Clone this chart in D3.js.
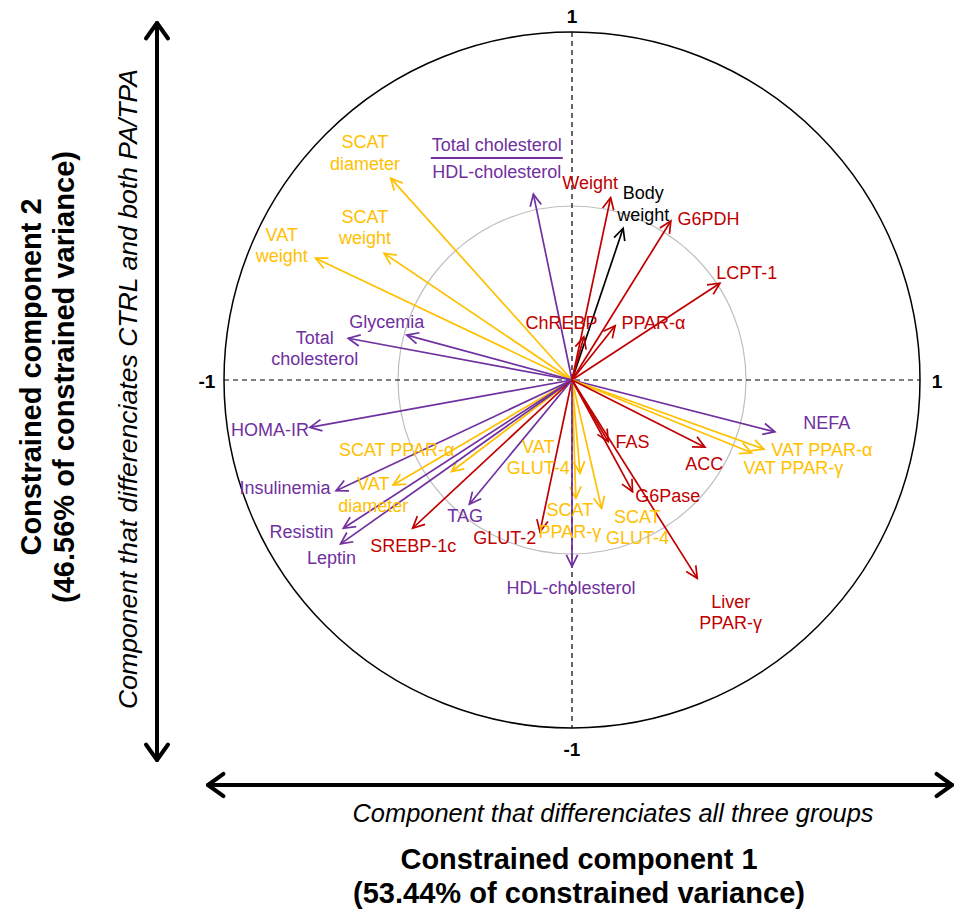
<!DOCTYPE html>
<html>
<head>
<meta charset="utf-8">
<script src="https://cdn.jsdelivr.net/npm/d3@7"></script>
<style>
  html, body { margin: 0; padding: 0; background: #fff; }
  svg { display: block; font-family: "Liberation Sans", Arial, sans-serif; }
</style>
</head>
<body>
<svg id="chart" width="954" height="914"></svg>
<script>
// ---------------- DATA ----------------
const variables = [
  "SCAT diameter", "SCAT weight", "VAT weight", "Total cholesterol / HDL-cholesterol",
  "Glycemia", "Total cholesterol", "Weight", "Body weight", "G6PDH", "LCPT-1",
  "PPAR-α", "ChREBP", "HOMA-IR", "SCAT PPAR-α", "VAT diameter", "Insulinemia",
  "Resistin", "Leptin", "SREBP-1c", "TAG", "GLUT-2", "VAT GLUT-4", "SCAT PPAR-γ",
  "SCAT GLUT-4", "HDL-cholesterol", "NEFA", "VAT PPAR-α", "VAT PPAR-γ", "ACC",
  "FAS", "G6Pase", "Liver PPAR-γ"
];
const component1 = [
  -0.521, -0.540, -0.737, -0.111,
  -0.475, -0.643, 0.111, 0.147, 0.284, 0.425,
  0.124, 0.034, -0.753, -0.346, -0.514, -0.678,
  -0.657, -0.665, -0.458, -0.295, -0.092, 0.023, 0.011,
  0.085, 0.000, 0.583, 0.552, 0.516, 0.382,
  0.104, 0.174, 0.360
];
const component2 = [
  0.580, 0.364, 0.350, 0.534,
  0.129, 0.120, 0.524, 0.436, 0.457, 0.278,
  0.156, 0.124, -0.136, -0.263, -0.302, -0.318,
  -0.426, -0.471, -0.426, -0.357, -0.436, -0.268, -0.340,
  -0.369, -0.536, -0.149, -0.199, -0.209, -0.193,
  -0.177, -0.321, -0.570
];
const groups = [
  "adipose", "adipose", "adipose", "serum",
  "serum", "serum", "liver", "body", "liver", "liver",
  "liver", "liver", "serum", "adipose", "adipose", "serum",
  "serum", "serum", "liver", "serum", "liver", "adipose", "adipose",
  "adipose", "serum", "serum", "adipose", "adipose", "liver",
  "liver", "liver", "liver"
];
const labelLines = [
  ["SCAT", "diameter"], ["SCAT", "weight"], ["VAT", "weight"], ["Total cholesterol", "HDL-cholesterol"],
  ["Glycemia"], ["Total", "cholesterol"], ["Weight"], ["Body", "weight"], ["G6PDH"], ["LCPT-1"],
  ["PPAR-α"], ["ChREBP"], ["HOMA-IR"], ["SCAT PPAR-α"], ["VAT", "diameter"], ["Insulinemia"],
  ["Resistin"], ["Leptin"], ["SREBP-1c"], ["TAG"], ["GLUT-2"], ["VAT", "GLUT-4"], ["SCAT", "PPAR-γ"],
  ["SCAT", "GLUT-4"], ["HDL-cholesterol"], ["NEFA"], ["VAT PPAR-α"], ["VAT PPAR-γ"], ["ACC"],
  ["FAS"], ["G6Pase"], ["Liver", "PPAR-γ"]
];
// label anchor (centre of the label block), in component units
const labelX = [
  -0.595, -0.595, -0.834, -0.216,
  -0.532, -0.739, 0.052, 0.205, 0.392, 0.502,
  0.234, -0.030, -0.868, -0.504, -0.571, -0.825,
  -0.777, -0.691, -0.456, -0.307, -0.193, -0.097, -0.006,
  0.188, -0.003, 0.732, 0.718, 0.636, 0.380,
  0.174, 0.275, 0.456
];
const labelY = [
  0.653, 0.438, 0.386, 0.638,
  0.168, 0.090, 0.565, 0.505, 0.462, 0.307,
  0.163, 0.165, -0.144, -0.201, -0.330, -0.311,
  -0.436, -0.512, -0.477, -0.391, -0.455, -0.223, -0.405,
  -0.424, -0.598, -0.124, -0.201, -0.254, -0.241,
  -0.177, -0.333, -0.668
];
const axisTicks = [-1, 1];
const xTitle = ["Constrained component 1", "(53.44% of constrained variance)"];
const yTitle = ["Constrained component 2", "(46.56% of constrained variance)"];
const xSubtitle = "Component that differenciates all three groups";
const ySubtitle = "Component that differenciates CTRL and both PA/TPA";

// ---------------- STYLE ----------------
const colors = { serum: "#7030A0", adipose: "#FFC000", liver: "#C00000", body: "#000000" };
const cx = 572, cy = 380, R = 348;

const svg = d3.select("#chart");
const x = d3.scaleLinear().domain([-1, 1]).range([cx - R, cx + R]);
const y = d3.scaleLinear().domain([-1, 1]).range([cy + R, cy - R]);

// circles
svg.append("circle").attr("cx", x(0)).attr("cy", y(0)).attr("r", x(1) - x(0))
  .attr("fill", "none").attr("stroke", "#000").attr("stroke-width", 1.5);
svg.append("circle").attr("cx", x(0)).attr("cy", y(0)).attr("r", x(0.5) - x(0))
  .attr("fill", "none").attr("stroke", "#BFBFBF").attr("stroke-width", 1.2);

// dashed axes
svg.append("line").attr("x1", x(-1)).attr("x2", x(1)).attr("y1", y(0)).attr("y2", y(0))
  .attr("stroke", "#000").attr("stroke-width", 1.2).attr("stroke-dasharray", "5,4");
svg.append("line").attr("x1", x(0)).attr("x2", x(0)).attr("y1", y(1)).attr("y2", y(-1))
  .attr("stroke", "#000").attr("stroke-width", 1.2).attr("stroke-dasharray", "5,4");

// tick labels
const tickG = svg.append("g").attr("font-weight", "bold").attr("font-size", 19)
  .attr("text-anchor", "middle").attr("dominant-baseline", "central");
axisTicks.forEach(t => {
  tickG.append("text").attr("x", x(t) + (t < 0 ? -17 : 17)).attr("y", y(0) + 1).text(t);
  tickG.append("text").attr("x", x(0)).attr("y", y(t) + (t < 0 ? 21 : -16)).text(t);
});

// arrows
const data = variables.map((v, i) => ({
  name: v, px: component1[i], py: component2[i], g: groups[i],
  lines: labelLines[i], lx: labelX[i], ly: labelY[i]
}));

function headPath(x0, y0, x1, y1, len, ang) {
  const a = Math.atan2(y1 - y0, x1 - x0);
  const p1 = [x1 - len * Math.cos(a - ang), y1 - len * Math.sin(a - ang)];
  const p2 = [x1 - len * Math.cos(a + ang), y1 - len * Math.sin(a + ang)];
  return `M${p1[0]},${p1[1]}L${x1},${y1}L${p2[0]},${p2[1]}`;
}

const arrows = svg.append("g");
data.forEach(d => {
  const col = colors[d.g];
  arrows.append("line").attr("x1", x(0)).attr("y1", y(0)).attr("x2", x(d.px)).attr("y2", y(d.py))
    .attr("stroke", col).attr("stroke-width", 1.7);
  arrows.append("path").attr("d", headPath(x(0), y(0), x(d.px), y(d.py), 13, 0.45))
    .attr("fill", "none").attr("stroke", col).attr("stroke-width", 1.7);
});

// labels
const labels = svg.append("g").attr("font-size", 18).attr("text-anchor", "middle");
const lh = 21.6;
data.forEach(d => {
  const col = colors[d.g];
  const n = d.lines.length;
  if (d.name === "Total cholesterol / HDL-cholesterol") {
    const t = labels.append("text").attr("fill", col).attr("dominant-baseline", "central");
    t.append("tspan").attr("x", x(d.lx)).attr("y", y(d.ly) - 13).text(d.lines[0]);
    t.append("tspan").attr("x", x(d.lx)).attr("y", y(d.ly) + 14).text(d.lines[1]);
    svg.append("line").attr("x1", x(d.lx) - 66).attr("x2", x(d.lx) + 66)
      .attr("y1", y(d.ly)).attr("y2", y(d.ly)).attr("stroke", col).attr("stroke-width", 2);
    return;
  }
  const t = labels.append("text").attr("fill", col).attr("dominant-baseline", "central");
  d.lines.forEach((ln, k) => {
    t.append("tspan").attr("x", x(d.lx)).attr("y", y(d.ly) + (k - (n - 1) / 2) * lh).text(ln);
  });
});

// big double arrows
function bigArrow(x1, y1, x2, y2) {
  const g = svg.append("g").attr("stroke", "#000").attr("stroke-width", 4).attr("fill", "none")
    .attr("stroke-linecap", "round").attr("stroke-linejoin", "round");
  g.append("line").attr("x1", x1).attr("y1", y1).attr("x2", x2).attr("y2", y2);
  g.append("path").attr("d", headPath(x1, y1, x2, y2, 19, 0.62));
  g.append("path").attr("d", headPath(x2, y2, x1, y1, 19, 0.62));
}
bigArrow(157, 760, 157, 23);
bigArrow(208, 785, 952, 785);

// titles
svg.append("text").attr("x", 613).attr("y", 813).attr("text-anchor", "middle")
  .attr("dominant-baseline", "central").attr("font-style", "italic").attr("font-size", 26)
  .attr("textLength", 521).attr("lengthAdjust", "spacingAndGlyphs").text(xSubtitle);
xTitle.forEach((s, i) => {
  svg.append("text").attr("x", 579).attr("y", 858 + i * 34).attr("text-anchor", "middle")
    .attr("dominant-baseline", "central").attr("font-weight", "bold").attr("font-size", 30)
    .attr("textLength", i === 0 ? 357 : 452).attr("lengthAdjust", "spacingAndGlyphs").text(s);
});
yTitle.forEach((s, i) => {
  svg.append("text").attr("transform", `translate(${30 + i * 33},377) rotate(-90)`)
    .attr("text-anchor", "middle").attr("dominant-baseline", "central")
    .attr("font-weight", "bold").attr("font-size", 30)
    .attr("textLength", i === 0 ? 357 : 452).attr("lengthAdjust", "spacingAndGlyphs").text(s);
});
svg.append("text").attr("transform", "translate(128,389) rotate(-90)")
  .attr("text-anchor", "middle").attr("dominant-baseline", "central")
  .attr("font-style", "italic").attr("font-size", 26)
  .attr("textLength", 640).attr("lengthAdjust", "spacingAndGlyphs").text(ySubtitle);
</script>
</body>
</html>
